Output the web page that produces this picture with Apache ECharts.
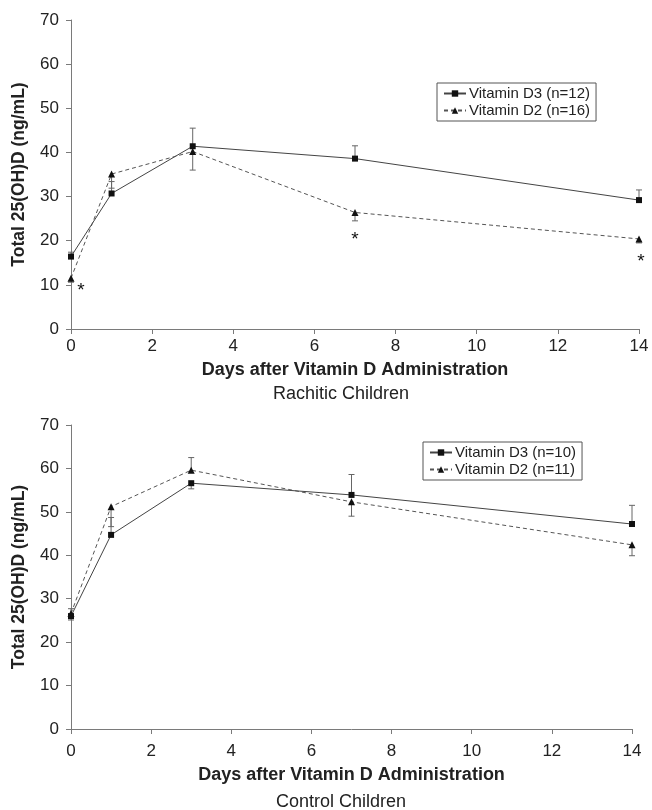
<!DOCTYPE html>
<html>
<head>
<meta charset="utf-8">
<script src="https://cdn.jsdelivr.net/npm/echarts@6/dist/echarts.min.js"></script>
<style>
html,body{margin:0;padding:0;background:#fff;}
#chart{width:652px;height:810px;}
</style>
</head>
<body>
<div id="chart"></div>
<script>
// ---- data ----
const days = [0, 1, 3, 7, 14];
const xTicks = [0, 2, 4, 6, 8, 10, 12, 14];
const yTicks = [0, 10, 20, 30, 40, 50, 60, 70];

// Rachitic children
const rachD3 = [16.4, 30.7, 41.4, 38.6, 29.2];
const rachD3ErrEnd = [17.4, 33.4, 45.5, 41.5, 31.5];
const rachD2 = [11.5, 35.1, 40.2, 26.4, 20.4];
const rachD2ErrEnd = [10.6, 31.9, 36.0, 24.5, 19.5];
const rachSig = [true, false, false, true, true];

// Control children
const ctrlD3 = [26.0, 44.7, 56.6, 53.9, 47.2];
const ctrlD3ErrEnd = [25.1, 48.7, 55.3, 58.6, 51.5];
const ctrlD2 = [26.6, 51.2, 59.6, 52.3, 42.4];
const ctrlD2ErrEnd = [27.7, 46.6, 62.5, 49.0, 39.9];

const names = {
  rachD3: 'Vitamin D3 (n=12)', rachD2: 'Vitamin D2 (n=16)',
  ctrlD3: 'Vitamin D3 (n=10)', ctrlD2: 'Vitamin D2 (n=11)'
};
const xTitle = 'Days after Vitamin D Administration';
const yTitle = 'Total 25(OH)D (ng/mL)';
const subTop = 'Rachitic Children';
const subBottom = 'Control Children';

// ---- styles ----
const FONT = 'Liberation Sans, Arial, sans-serif';
const axisCol = '#7a7a7a';
const txtCol = '#222';
const sigOffsets = [[10, 13], null, null, [0, 27], [2, 23]];

function xAxis(gi, labelMargin, nameGap) {
  return {
    gridIndex: gi, type: 'value', min: 0, max: 14, interval: 2,
    axisLine: {lineStyle: {color: axisCol, width: 1}},
    axisTick: {show: true, length: 5, lineStyle: {color: axisCol}},
    axisLabel: {color: txtCol, fontSize: 17, fontFamily: FONT, margin: labelMargin},
    splitLine: {show: false},
    name: xTitle, nameLocation: 'middle', nameGap: nameGap,
    nameTextStyle: {color: txtCol, fontSize: 18, fontWeight: 'bold', fontFamily: FONT}
  };
}
function yAxis(gi) {
  return {
    gridIndex: gi, type: 'value', min: 0, max: 70, interval: 10,
    axisLine: {show: true, lineStyle: {color: axisCol, width: 1}},
    axisTick: {show: true, length: 5, lineStyle: {color: axisCol}},
    axisLabel: {color: txtCol, fontSize: 17, fontFamily: FONT, margin: 12},
    splitLine: {show: false},
    name: yTitle, nameLocation: 'middle', nameGap: 43,
    nameTextStyle: {color: txtCol, fontSize: 17.5, fontWeight: 'bold', fontFamily: FONT}
  };
}
function lineSeries(name, vals, gi, dashed, sig) {
  return {
    name: name, type: 'line', xAxisIndex: gi, yAxisIndex: gi,
    symbol: dashed ? 'triangle' : 'rect', symbolSize: dashed ? 7 : 6,
    itemStyle: {color: '#111'},
    lineStyle: {color: dashed ? '#555' : '#444', width: 1, type: dashed ? [4, 3] : 'solid'},
    z: 3,
    data: vals.map((v, i) => {
      const item = {value: [days[i], v]};
      if (sig && sig[i]) {
        item.label = {show: true, position: 'inside', formatter: '*', offset: sigOffsets[i],
          color: '#111', fontSize: 19, fontFamily: FONT};
      }
      return item;
    })
  };
}
function errSeries(vals, ends, gi) {
  return {
    type: 'custom', xAxisIndex: gi, yAxisIndex: gi, z: 2, silent: true,
    encode: {x: 0, y: [1, 2]},
    renderItem: function (params, api) {
      const p1 = api.coord([api.value(0), api.value(1)]);
      const p2 = api.coord([api.value(0), api.value(2)]);
      const st = {stroke: '#666', lineWidth: 1};
      return {type: 'group', children: [
        {type: 'line', shape: {x1: p1[0], y1: p1[1], x2: p2[0], y2: p2[1]}, style: st},
        {type: 'line', shape: {x1: p2[0] - 3, y1: p2[1], x2: p2[0] + 3, y2: p2[1]}, style: st}
      ]};
    },
    data: vals.map((v, i) => [days[i], v, ends[i]])
  };
}
function legend(data, left, top) {
  return {
    data: data, orient: 'vertical', left: left, top: top,
    borderColor: '#555', borderWidth: 1, padding: [3, 6, 3, 6], itemGap: 2,
    itemWidth: 22, itemHeight: 8,
    textStyle: {color: txtCol, fontSize: 15, fontFamily: FONT, padding: [0, 0, 0, -2]}
  };
}

const chart = echarts.init(document.getElementById('chart'), null, {renderer: 'canvas'});
chart.setOption({
  animation: false,
  backgroundColor: '#fff',
  grid: [
    {left: 71, right: 13, top: 20, height: 309},
    {left: 71, right: 20, top: 425, height: 304}
  ],
  xAxis: [xAxis(0, 9, 32), xAxis(1, 14, 37)],
  yAxis: [yAxis(0), yAxis(1)],
  legend: [
    legend([names.rachD3, names.rachD2], 437, 83),
    legend([names.ctrlD3, names.ctrlD2], 423, 442)
  ],
  title: [
    {text: subTop, left: 336, top: 380, textAlign: 'center',
     textStyle: {fontSize: 18, fontWeight: 'normal', color: txtCol, fontFamily: FONT}},
    {text: subBottom, left: 336, top: 788, textAlign: 'center',
     textStyle: {fontSize: 18, fontWeight: 'normal', color: txtCol, fontFamily: FONT}}
  ],
  series: [
    errSeries(rachD3, rachD3ErrEnd, 0),
    errSeries(rachD2, rachD2ErrEnd, 0),
    lineSeries(names.rachD3, rachD3, 0, false, null),
    lineSeries(names.rachD2, rachD2, 0, true, rachSig),
    errSeries(ctrlD3, ctrlD3ErrEnd, 1),
    errSeries(ctrlD2, ctrlD2ErrEnd, 1),
    lineSeries(names.ctrlD3, ctrlD3, 1, false, null),
    lineSeries(names.ctrlD2, ctrlD2, 1, true, null)
  ]
});
</script>
</body>
</html>
